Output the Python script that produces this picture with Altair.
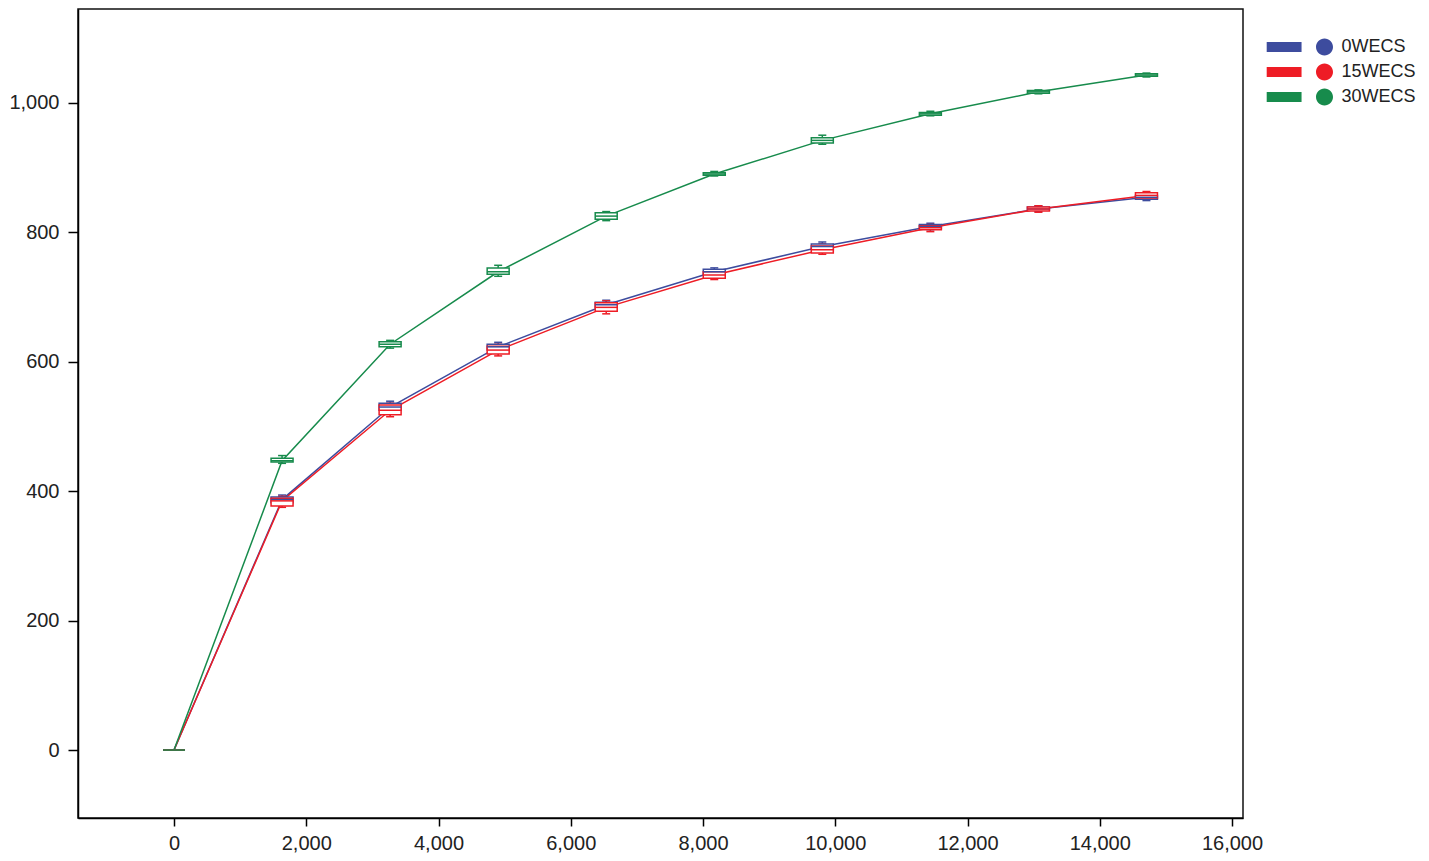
import altair as alt
import pandas as pd

groups = ["0WECS", "15WECS", "30WECS"]
colors = ["#3D4C9E", "#EE1C25", "#178B4C"]

depth = [0, 1634, 3268, 4902, 6536, 8170, 9804, 11438, 13072, 14706]

blue_med = [0, 387, 530, 623, 688, 739, 778, 809, 836, 854]
blue_q1 = [0, 382, 525, 618, 684, 735, 773, 806, 834, 851]
blue_q3 = [0, 391, 536, 627, 692, 743, 782, 812, 839, 857]
blue_lo = [0, 378, 522, 615, 681, 733, 771, 804, 832, 849]
blue_hi = [0, 394, 539, 630, 695, 745, 785, 814, 841, 859]

red_med = [0, 385, 525, 618, 684, 734, 773, 807, 836, 857]
red_q1 = [0, 377, 518, 612, 678, 729, 768, 804, 833, 853]
red_q3 = [0, 389, 533, 624, 691, 739, 779, 810, 839, 861]
red_lo = [0, 375, 515, 609, 674, 727, 766, 801, 831, 851]
red_hi = [0, 392, 536, 627, 694, 741, 782, 812, 841, 863]

green_med = [0, 447, 627, 739, 825, 890, 942, 983, 1017, 1043]
green_q1 = [0, 445, 623, 735, 820, 888, 938, 981, 1015, 1041]
green_q3 = [0, 451, 631, 745, 830, 892, 946, 985, 1019, 1045]
green_lo = [0, 443, 621, 732, 818, 887, 936, 980, 1014, 1040]
green_hi = [0, 455, 633, 749, 832, 894, 950, 987, 1020, 1046]

x_ticks = [0, 2000, 4000, 6000, 8000, 10000, 12000, 14000, 16000]
y_ticks = [0, 200, 400, 600, 800, 1000]

rows = []
for g, med, q1, q3, lo, hi in [
    (groups[0], blue_med, blue_q1, blue_q3, blue_lo, blue_hi),
    (groups[1], red_med, red_q1, red_q3, red_lo, red_hi),
    (groups[2], green_med, green_q1, green_q3, green_lo, green_hi),
]:
    for i, d in enumerate(depth):
        rows.append(dict(group=g, depth=d, med=med[i], q1=q1[i], q3=q3[i], lo=lo[i], hi=hi[i], order=i))
df = pd.DataFrame(rows)

FONT = "Liberation Sans"

xscale = alt.Scale(domain=[-1452, 16166], nice=False, zero=False, padding=0)
yscale = alt.Scale(domain=[-105, 1145], nice=False, zero=False, padding=0)
xaxis = alt.Axis(values=x_ticks, format=",d", title=None, tickSize=8, labelPadding=7)
yaxis = alt.Axis(values=y_ticks, format=",d", title=None, tickSize=10, labelPadding=9)


def X(field):
    return alt.X(field, type="quantitative", scale=xscale, axis=xaxis)


def Y(field):
    return alt.Y(field, type="quantitative", scale=yscale, axis=yaxis)


# colour scale for the legend (explicit domain), separate scales for drawing
cscale = alt.Scale(domain=groups, range=colors)
dscale = alt.Scale(range=colors)
stroke_enc = alt.Stroke("group:N", scale=dscale, legend=None)
fill_enc = alt.Fill("group:N", scale=dscale, legend=None)

base = alt.Chart(df)

lines = base.mark_line(strokeWidth=1.5).encode(
    x=X("depth"), y=Y("med"), stroke=stroke_enc, detail="group:N", order="order:Q")

whisk = base.mark_rule(strokeWidth=1.5).encode(
    x=X("depth"), y=Y("lo"), y2="hi:Q", stroke=stroke_enc)

cap_lo = base.mark_tick(orient="horizontal", size=8, thickness=1.5, opacity=1).encode(
    x=X("depth"), y=Y("lo"), fill=fill_enc)
cap_hi = base.mark_tick(orient="horizontal", size=8, thickness=1.5, opacity=1).encode(
    x=X("depth"), y=Y("hi"), fill=fill_enc)

boxes = base.mark_bar(size=22, fill="white", strokeWidth=1.5).encode(
    x=X("depth"), y=Y("q1"), y2="q3:Q", stroke=stroke_enc)

legend_path = ("M-6.8,-0.6H-2.7V0.6H-6.8Z "
               "M-1,0A1,1,0,1,0,1,0A1,1,0,1,0,-1,0Z")

medians = base.mark_tick(orient="horizontal", size=22, thickness=1.5, opacity=1).encode(
    x=X("depth"), y=Y("med"),
    color=alt.Color("group:N", scale=cscale,
                    legend=alt.Legend(orient="none", legendX=1237.5, legendY=29, title=None,
                                      symbolType=legend_path, symbolSize=289,
                                      symbolStrokeWidth=0, symbolOpacity=1,
                                      labelFontSize=18, labelFont=FONT, labelColor="#222",
                                      labelOffset=8, rowPadding=7, padding=0)))

chart = alt.layer(lines, whisk, cap_lo, cap_hi, boxes, medians).properties(
    width=1165, height=809,
    background="white",
    autosize=alt.AutoSizeParams(type="none"),
    padding={"left": 70, "top": 1, "right": 178, "bottom": 38},
).configure_view(
    stroke="#111", strokeWidth=1.5
).configure_axis(
    grid=False, domainColor="#000", tickColor="#000", domainWidth=1.5, tickWidth=1.5,
    labelFontSize=20, labelFont=FONT, labelColor="#222", labelFlush=False
)

chart.save("out.html", embed_options={"renderer": "svg", "actions": False})
